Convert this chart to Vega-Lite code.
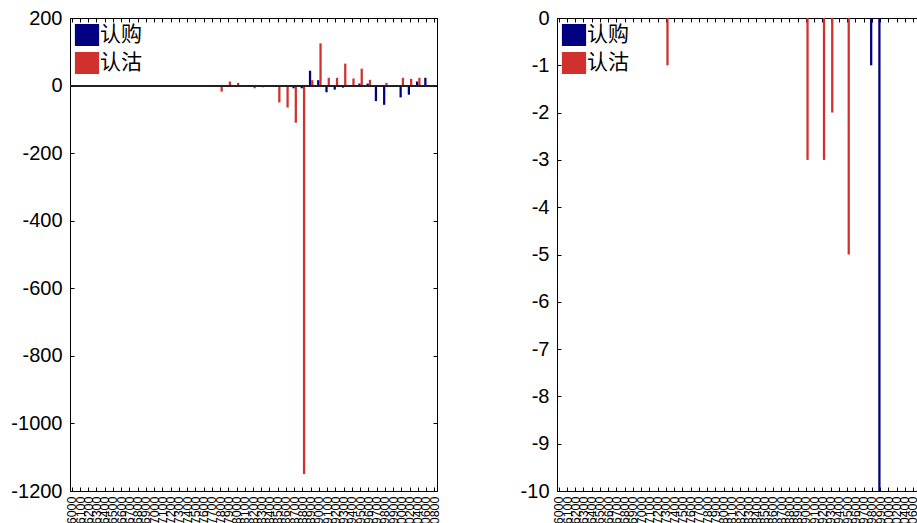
{
 "$schema": "https://vega.github.io/schema/vega-lite/v6.json",
 "padding": {"left": 10, "top": 7, "right": 0, "bottom": 0},
 "background": "white",
 "config": {
  "view": {"stroke": "black", "strokeWidth": 1},
  "axis": {"labelFont": "Liberation Sans", "labelColor": "black", "domainColor": "black", "tickColor": "black", "grid": false, "title": null, "domainWidth": 1, "ticks": true, "tickWidth": 1},
  "legend": {"orient": "top-left", "offset": 6, "padding": 0, "symbolType": "M-1.1,-1H1.1V1H-1.1Z", "symbolSize": 484, "symbolStrokeWidth": 0, "symbolOpacity": 1, "labelFont": "Noto Sans CJK SC", "labelFontSize": 21, "labelColor": "black", "labelOffset": 2, "rowPadding": 6, "labelLimit": 0}
 },
 "datasets": {
  "left": [
   {"s":"6000","t":"认购","v":0},{"s":"6000","t":"认沽","v":0},
   {"s":"6100","t":"认购","v":0},{"s":"6100","t":"认沽","v":0},
   {"s":"6200","t":"认购","v":0},{"s":"6200","t":"认沽","v":0},
   {"s":"6300","t":"认购","v":0},{"s":"6300","t":"认沽","v":0},
   {"s":"6400","t":"认购","v":0},{"s":"6400","t":"认沽","v":0},
   {"s":"6500","t":"认购","v":0},{"s":"6500","t":"认沽","v":0},
   {"s":"6600","t":"认购","v":0},{"s":"6600","t":"认沽","v":0},
   {"s":"6700","t":"认购","v":0},{"s":"6700","t":"认沽","v":0},
   {"s":"6800","t":"认购","v":0},{"s":"6800","t":"认沽","v":0},
   {"s":"6900","t":"认购","v":0},{"s":"6900","t":"认沽","v":0},
   {"s":"7000","t":"认购","v":0},{"s":"7000","t":"认沽","v":0},
   {"s":"7100","t":"认购","v":0},{"s":"7100","t":"认沽","v":0},
   {"s":"7200","t":"认购","v":0},{"s":"7200","t":"认沽","v":0},
   {"s":"7300","t":"认购","v":0},{"s":"7300","t":"认沽","v":0},
   {"s":"7400","t":"认购","v":0},{"s":"7400","t":"认沽","v":-4},
   {"s":"7500","t":"认购","v":0},{"s":"7500","t":"认沽","v":0},
   {"s":"7600","t":"认购","v":0},{"s":"7600","t":"认沽","v":0},
   {"s":"7700","t":"认购","v":0},{"s":"7700","t":"认沽","v":0},
   {"s":"7800","t":"认购","v":0},{"s":"7800","t":"认沽","v":-18},
   {"s":"7900","t":"认购","v":0},{"s":"7900","t":"认沽","v":12},
   {"s":"8000","t":"认购","v":0},{"s":"8000","t":"认沽","v":8},
   {"s":"8100","t":"认购","v":0},{"s":"8100","t":"认沽","v":1},
   {"s":"8200","t":"认购","v":0},{"s":"8200","t":"认沽","v":-8},
   {"s":"8300","t":"认购","v":0},{"s":"8300","t":"认沽","v":-5},
   {"s":"8400","t":"认购","v":0},{"s":"8400","t":"认沽","v":-2},
   {"s":"8500","t":"认购","v":0},{"s":"8500","t":"认沽","v":-50},
   {"s":"8600","t":"认购","v":0},{"s":"8600","t":"认沽","v":-65},
   {"s":"8700","t":"认购","v":-8},{"s":"8700","t":"认沽","v":-110},
   {"s":"8800","t":"认购","v":-8},{"s":"8800","t":"认沽","v":-1150},
   {"s":"8900","t":"认购","v":44},{"s":"8900","t":"认沽","v":16},
   {"s":"9000","t":"认购","v":16},{"s":"9000","t":"认沽","v":125},
   {"s":"9100","t":"认购","v":-20},{"s":"9100","t":"认沽","v":23},
   {"s":"9200","t":"认购","v":-12},{"s":"9200","t":"认沽","v":23},
   {"s":"9300","t":"认购","v":-6},{"s":"9300","t":"认沽","v":65},
   {"s":"9400","t":"认购","v":0},{"s":"9400","t":"认沽","v":21},
   {"s":"9500","t":"认购","v":6},{"s":"9500","t":"认沽","v":50},
   {"s":"9600","t":"认购","v":6},{"s":"9600","t":"认沽","v":17},
   {"s":"9700","t":"认购","v":-46},{"s":"9700","t":"认沽","v":-3},
   {"s":"9800","t":"认购","v":-57},{"s":"9800","t":"认沽","v":8},
   {"s":"9900","t":"认购","v":-2},{"s":"9900","t":"认沽","v":-2},
   {"s":"10000","t":"认购","v":-35},{"s":"10000","t":"认沽","v":23},
   {"s":"10200","t":"认购","v":-27},{"s":"10200","t":"认沽","v":20},
   {"s":"10400","t":"认购","v":12},{"s":"10400","t":"认沽","v":23},
   {"s":"10600","t":"认购","v":23},{"s":"10600","t":"认沽","v":2},
   {"s":"10800","t":"认购","v":0},{"s":"10800","t":"认沽","v":0}
  ],
  "right": [
   {"s":"6000","t":"认购","v":0},{"s":"6000","t":"认沽","v":0},
   {"s":"6100","t":"认购","v":0},{"s":"6100","t":"认沽","v":0},
   {"s":"6200","t":"认购","v":0},{"s":"6200","t":"认沽","v":0},
   {"s":"6300","t":"认购","v":0},{"s":"6300","t":"认沽","v":0},
   {"s":"6400","t":"认购","v":0},{"s":"6400","t":"认沽","v":0},
   {"s":"6500","t":"认购","v":0},{"s":"6500","t":"认沽","v":0},
   {"s":"6600","t":"认购","v":0},{"s":"6600","t":"认沽","v":0},
   {"s":"6700","t":"认购","v":0},{"s":"6700","t":"认沽","v":0},
   {"s":"6800","t":"认购","v":0},{"s":"6800","t":"认沽","v":0},
   {"s":"6900","t":"认购","v":0},{"s":"6900","t":"认沽","v":0},
   {"s":"7000","t":"认购","v":0},{"s":"7000","t":"认沽","v":0},
   {"s":"7100","t":"认购","v":0},{"s":"7100","t":"认沽","v":0},
   {"s":"7200","t":"认购","v":0},{"s":"7200","t":"认沽","v":0},
   {"s":"7300","t":"认购","v":0},{"s":"7300","t":"认沽","v":-1},
   {"s":"7400","t":"认购","v":0},{"s":"7400","t":"认沽","v":0},
   {"s":"7500","t":"认购","v":0},{"s":"7500","t":"认沽","v":0},
   {"s":"7600","t":"认购","v":0},{"s":"7600","t":"认沽","v":0},
   {"s":"7700","t":"认购","v":0},{"s":"7700","t":"认沽","v":0},
   {"s":"7800","t":"认购","v":0},{"s":"7800","t":"认沽","v":0},
   {"s":"7900","t":"认购","v":0},{"s":"7900","t":"认沽","v":0},
   {"s":"8000","t":"认购","v":0},{"s":"8000","t":"认沽","v":0},
   {"s":"8100","t":"认购","v":0},{"s":"8100","t":"认沽","v":0},
   {"s":"8200","t":"认购","v":0},{"s":"8200","t":"认沽","v":0},
   {"s":"8300","t":"认购","v":0},{"s":"8300","t":"认沽","v":0},
   {"s":"8400","t":"认购","v":0},{"s":"8400","t":"认沽","v":0},
   {"s":"8500","t":"认购","v":0},{"s":"8500","t":"认沽","v":0},
   {"s":"8600","t":"认购","v":0},{"s":"8600","t":"认沽","v":0},
   {"s":"8700","t":"认购","v":0},{"s":"8700","t":"认沽","v":0},
   {"s":"8800","t":"认购","v":0},{"s":"8800","t":"认沽","v":0},
   {"s":"8900","t":"认购","v":0},{"s":"8900","t":"认沽","v":0},
   {"s":"9000","t":"认购","v":0},{"s":"9000","t":"认沽","v":-3},
   {"s":"9100","t":"认购","v":0},{"s":"9100","t":"认沽","v":0},
   {"s":"9200","t":"认购","v":0},{"s":"9200","t":"认沽","v":-3},
   {"s":"9300","t":"认购","v":0},{"s":"9300","t":"认沽","v":-2},
   {"s":"9400","t":"认购","v":0},{"s":"9400","t":"认沽","v":0},
   {"s":"9500","t":"认购","v":0},{"s":"9500","t":"认沽","v":-5},
   {"s":"9600","t":"认购","v":0},{"s":"9600","t":"认沽","v":0},
   {"s":"9700","t":"认购","v":0},{"s":"9700","t":"认沽","v":0},
   {"s":"9800","t":"认购","v":-1},{"s":"9800","t":"认沽","v":0},
   {"s":"9900","t":"认购","v":-10},{"s":"9900","t":"认沽","v":0},
   {"s":"10000","t":"认购","v":0},{"s":"10000","t":"认沽","v":0},
   {"s":"10200","t":"认购","v":0},{"s":"10200","t":"认沽","v":0},
   {"s":"10400","t":"认购","v":0},{"s":"10400","t":"认沽","v":0},
   {"s":"10600","t":"认购","v":0},{"s":"10600","t":"认沽","v":0},
   {"s":"10800","t":"认购","v":0},{"s":"10800","t":"认沽","v":0}
  ]
 },
 "spacing": 77,
 "resolve": {"scale": {"color": "independent"}},
 "hconcat": [
  {
   "width": 367, "height": 473,
   "data": {"name": "left"},
   "layer": [
    {
     "mark": {"type": "bar"},
     "encoding": {
      "x": {"field": "s", "type": "ordinal", "sort": null, "scale": {"paddingInner": 0.45, "paddingOuter": 0},
            "axis": {"orient": "bottom", "labelAngle": -90, "labelFontSize": 12.5, "tickSize": -4, "labelPadding": 9, "labelOverlap": false, "title": null}},
      "xOffset": {"field": "t", "sort": ["认购", "认沽"]},
      "y": {"field": "v", "type": "quantitative", "scale": {"domain": [-1200, 200], "nice": false},
            "axis": {"values": [-1200, -1000, -800, -600, -400, -200, 0, 200], "labelExpr": "datum.value + ''", "labelFontSize": 20, "tickSize": -4, "labelPadding": 12, "title": null}},
      "color": {"field": "t", "type": "nominal", "scale": {"domain": ["认购", "认沽"], "range": ["#000080", "#d0312d"]}, "legend": {"title": null}}
     }
    },
    {
     "mark": {"type": "rule", "color": "#222222", "strokeWidth": 1},
     "encoding": {"y": {"datum": 0, "axis": null}}
    },
    {
     "mark": {"type": "bar", "opacity": 0},
     "encoding": {
      "x": {"field": "s", "type": "ordinal", "sort": null, "axis": {"orient": "top", "labels": false, "tickSize": -4, "title": null}},
      "y": {"field": "v", "type": "quantitative", "axis": {"orient": "right", "labels": false, "values": [-1200, -1000, -800, -600, -400, -200, 0, 200], "tickSize": -4, "title": null}}
     }
    }
   ],
   "resolve": {"axis": {"x": "independent", "y": "independent"}}
  },
  {
   "width": 367, "height": 473,
   "data": {"name": "right"},
   "layer": [
    {
     "mark": {"type": "bar"},
     "encoding": {
      "x": {"field": "s", "type": "ordinal", "sort": null, "scale": {"paddingInner": 0.45, "paddingOuter": 0},
            "axis": {"orient": "bottom", "labelAngle": -90, "labelFontSize": 12.5, "tickSize": -4, "labelPadding": 9, "labelOverlap": false, "title": null}},
      "xOffset": {"field": "t", "sort": ["认购", "认沽"]},
      "y": {"field": "v", "type": "quantitative", "scale": {"domain": [-10, 0], "nice": false},
            "axis": {"values": [-10, -9, -8, -7, -6, -5, -4, -3, -2, -1, 0], "labelExpr": "datum.value + ''", "labelFontSize": 20, "tickSize": -4, "labelPadding": 12, "title": null}},
      "color": {"field": "t", "type": "nominal", "scale": {"domain": ["认购", "认沽"], "range": ["#000080", "#d0312d"]}, "legend": {"title": null}}
     }
    },
    {
     "mark": {"type": "bar", "opacity": 0},
     "encoding": {
      "x": {"field": "s", "type": "ordinal", "sort": null, "axis": {"orient": "top", "labels": false, "tickSize": -4, "title": null}},
      "y": {"field": "v", "type": "quantitative", "axis": {"orient": "right", "labels": false, "values": [-10, -9, -8, -7, -6, -5, -4, -3, -2, -1, 0], "tickSize": -4, "title": null}}
     }
    }
   ],
   "resolve": {"axis": {"x": "independent", "y": "independent"}}
  }
 ]
}
